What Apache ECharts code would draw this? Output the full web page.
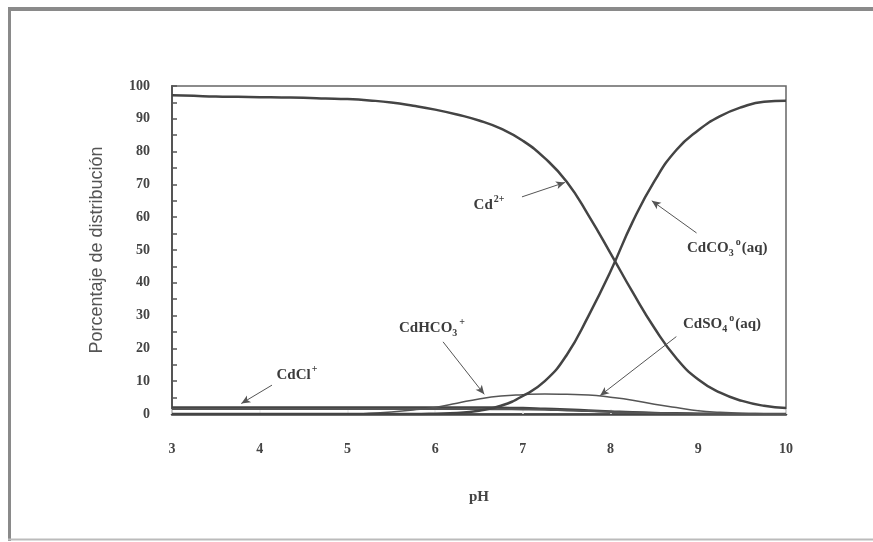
<!DOCTYPE html>
<html>
<head>
<meta charset="utf-8">
<script src="https://cdn.jsdelivr.net/npm/echarts@6/dist/echarts.min.js"></script>
<style>
  html, body { margin: 0; padding: 0; background: #fff; }
  #chart { width: 873px; height: 542px; }
</style>
</head>
<body>
<div id="chart"></div>
<script>
// pH grid shared by all species curves
const phValues = [3, 3.25, 3.5, 3.75, 4, 4.25, 4.5, 4.75, 5, 5.25, 5.5, 5.75, 6, 6.25, 6.5,
                  6.75, 7, 7.25, 7.5, 7.75, 8, 8.25, 8.5, 8.75, 9, 9.25, 9.5, 9.75, 10];

// Distribution percentages for each cadmium species
const cd2 = [97.2, 97.0, 96.8, 96.7, 96.6, 96.5, 96.4, 96.2, 96.0, 95.6, 95.0, 94.0, 92.8, 91.3, 89.5,
             87.0, 83.3, 78.0, 70.8, 60.5, 49.0, 37.2, 26.2, 17.0, 10.5, 6.5, 4.0, 2.5, 1.8];
const cdco3 = [0, 0, 0, 0, 0, 0, 0, 0, 0, 0, 0, 0, 0.1, 0.3, 1.0,
               2.5, 5.5, 10.0, 18.0, 30.0, 43.5, 58.5, 71.0, 80.5, 86.5, 90.8, 93.6, 95.2, 95.5];
const cdhco3 = [0, 0, 0, 0, 0, 0, 0, 0, 0, 0.2, 0.6, 1.2, 2.0, 3.3, 4.6,
                5.5, 5.9, 6.1, 6.0, 5.8, 5.1, 4.2, 3.0, 2.0, 1.0, 0.5, 0.2, 0.1, 0];
const cdcl = [2.0, 2.0, 2.0, 2.0, 2.0, 2.0, 2.0, 2.0, 2.0, 2.0, 2.0, 2.0, 2.0, 2.0, 2.0,
              1.9, 1.8, 1.6, 1.4, 1.1, 0.8, 0.5, 0.3, 0.2, 0.1, 0.05, 0, 0, 0];
const cdso4 = [1.5, 1.5, 1.5, 1.5, 1.5, 1.5, 1.5, 1.5, 1.5, 1.5, 1.5, 1.5, 1.5, 1.5, 1.5,
               1.45, 1.4, 1.3, 1.1, 0.9, 0.6, 0.4, 0.25, 0.15, 0.1, 0.05, 0, 0, 0];

// Axis ticks
const xTicks = [3, 4, 5, 6, 7, 8, 9, 10];
const yTicks = [0, 10, 20, 30, 40, 50, 60, 70, 80, 90, 100];

// Species labels: [text key, label anchor (pH, %), arrow tail (pH, %), arrow tip (pH, %)]
const speciesNotes = [
  ['cd2',    [6.62, 63.7], [6.99, 66.2], [7.48, 70.6]],
  ['cdco3',  [9.33, 50.5], [8.98, 55.2], [8.47, 65.0]],
  ['cdso4',  [9.27, 27.4], [8.75, 23.6], [7.88, 5.6]],
  ['cdhco3', [5.97, 26.2], [6.09, 22.0], [6.56, 6.0]],
  ['cdcl',   [4.43, 11.9], [4.14, 8.8],  [3.79, 3.2]]
];

const labelText = {
  cd2:    '{b|Cd}{sup|2+}',
  cdco3:  '{b|CdCO}{sub|3}{sup|o}{b|(aq)}',
  cdso4:  '{b|CdSO}{sub|4}{sup|o}{b|(aq)}',
  cdhco3: '{b|CdHCO}{sub|3}{sup|+}',
  cdcl:   '{b|CdCl}{sup|+}'
};

const serif = '"Liberation Serif", "DejaVu Serif", serif';
const ink = '#3c3c3c';

function pairs(ys) { return phValues.map((x, i) => [x, ys[i]]); }

const richStyle = {
  b:   { fontFamily: serif, fontWeight: 'bold', fontSize: 15, color: ink, letterSpacing: 2 },
  sup: { fontFamily: serif, fontWeight: 'bold', fontSize: 10, color: ink, verticalAlign: 'top', padding: [0, 1, 11, 1] },
  sub: { fontFamily: serif, fontWeight: 'bold', fontSize: 10, color: ink, verticalAlign: 'bottom', padding: [8, 1, 0, 0] }
};

function curve(name, ys, width, color) {
  return {
    name, type: 'line', data: pairs(ys), smooth: 0.5, showSymbol: false,
    lineStyle: { color, width }, z: 3
  };
}

const chart = echarts.init(document.getElementById('chart'), null, { renderer: 'canvas' });

const cd2Series = curve('Cd2+', cd2, 2.5, '#444');
// arrows pointing from each species label to its curve
cd2Series.markLine = {
  silent: true, symbol: ['none', 'arrow'], symbolSize: [6, 9],
  label: { show: false },
  lineStyle: { color: '#555', width: 1, type: 'solid' },
  data: speciesNotes.map(n => [{ coord: n[2] }, { coord: n[3] }])
};
// species names
cd2Series.markPoint = {
  silent: true, symbol: 'circle', symbolSize: 1,
  itemStyle: { color: 'rgba(0,0,0,0)' },
  label: {
    show: true, position: 'inside', color: ink,
    formatter: p => labelText[p.name], rich: richStyle
  },
  data: speciesNotes.map(n => ({ name: n[0], coord: n[1] }))
};

const series = [
  curve('CdCl+', cdcl, 2.5, '#444'),
  curve('CdSO4', cdso4, 2, '#555'),
  curve('CdHCO3+', cdhco3, 1.5, '#555'),
  curve('CdCO3', cdco3, 2.5, '#444'),
  cd2Series
];

chart.setOption({
  animation: false,
  backgroundColor: '#fff',
  grid: { left: 172, right: 87, top: 86, bottom: 128, show: true, borderColor: '#666', borderWidth: 1.5 },
  xAxis: {
    type: 'value', min: 3, max: 10, interval: 1,
    name: 'pH', nameLocation: 'middle', nameGap: 76,
    nameTextStyle: { fontFamily: serif, fontWeight: 'bold', fontSize: 15, color: '#444' },
    axisLine: { lineStyle: { color: '#444', width: 2.5 } },
    axisTick: { inside: true, length: 5, lineStyle: { color: '#eee', width: 1.5 } },
    minorTick: { show: false },
    splitLine: { show: false },
    axisLabel: {
      margin: 28, color: '#444', fontFamily: serif, fontWeight: 'bold', fontSize: 14,
      formatter: v => xTicks.includes(v) ? String(v) : ''
    }
  },
  yAxis: {
    type: 'value', min: 0, max: 100, interval: 10,
    name: 'Porcentaje de distribución', nameLocation: 'middle', nameGap: 66,
    nameTextStyle: { fontFamily: '"Liberation Sans", Arial, sans-serif', fontSize: 18, color: '#555' },
    axisLine: { lineStyle: { color: '#555', width: 2 } },
    axisTick: { inside: true, length: 5, lineStyle: { color: '#555', width: 1.5 } },
    minorTick: { show: true, splitNumber: 2, length: 5, lineStyle: { color: '#555', width: 1.5 } },
    splitLine: { show: false },
    axisLabel: {
      margin: 22, color: '#444', fontFamily: serif, fontWeight: 'bold', fontSize: 14,
      formatter: v => yTicks.includes(v) ? String(v) : ''
    }
  },
  graphic: [
    // outer page frame
    { type: 'line', shape: { x1: 9.5, y1: 7, x2: 9.5, y2: 541 }, style: { stroke: '#8a8a8a', lineWidth: 3 }, silent: true },
    { type: 'line', shape: { x1: 8, y1: 9, x2: 873, y2: 9 }, style: { stroke: '#8a8a8a', lineWidth: 4 }, silent: true },
    { type: 'line', shape: { x1: 8, y1: 539.5, x2: 873, y2: 539.5 }, style: { stroke: '#bbb', lineWidth: 2 }, silent: true }
  ],
  series
});
</script>
</body>
</html>
